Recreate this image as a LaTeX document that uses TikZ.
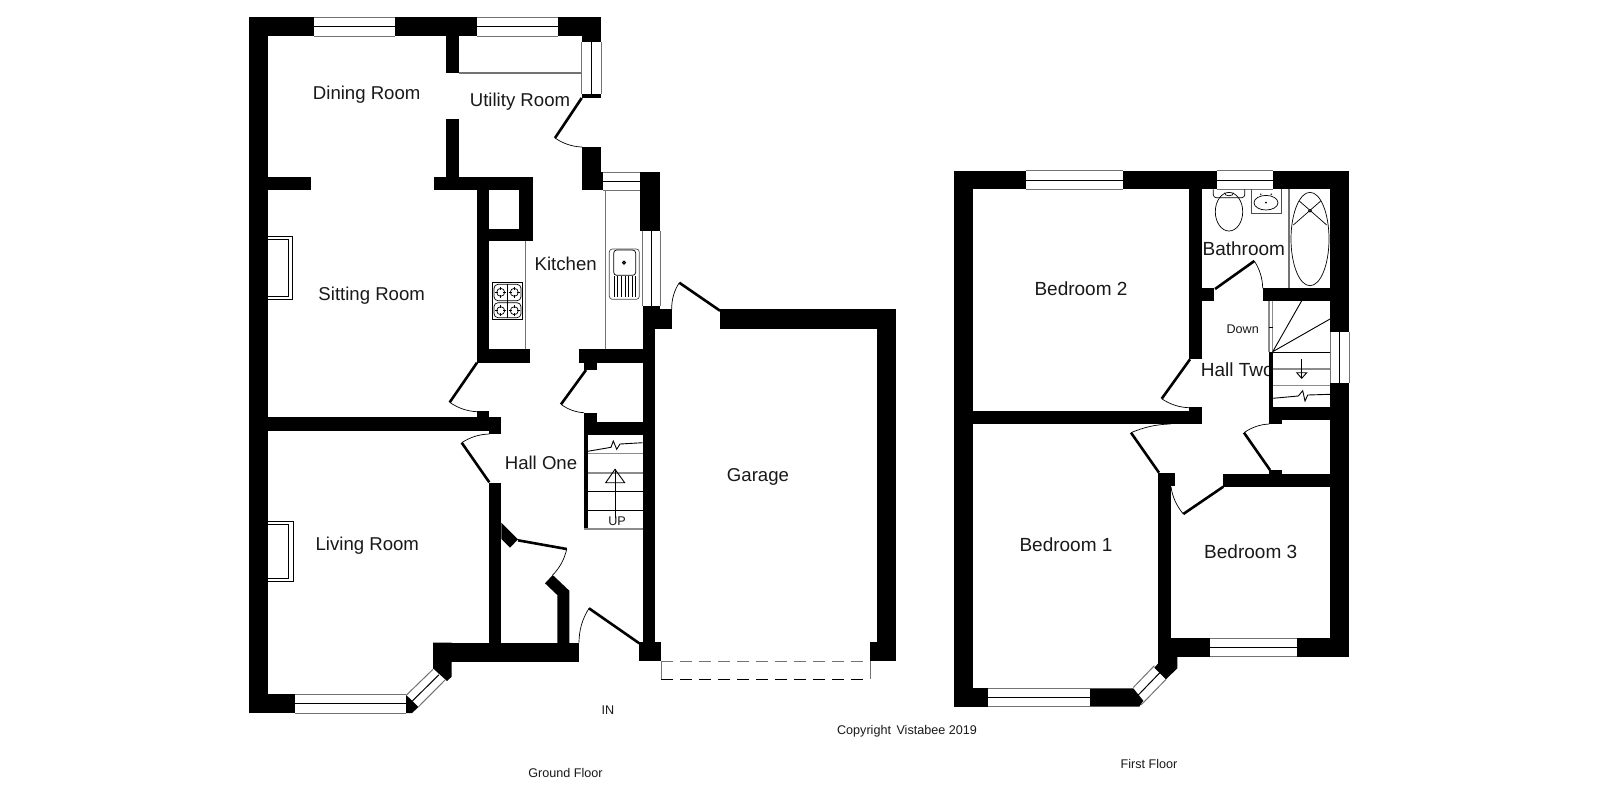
\documentclass[tikz,border=0pt]{standalone}
\usepackage{fontspec}
\setmainfont{Liberation Sans}
\usetikzlibrary{calc}
\tikzset{
  wall/.style={fill=black},
  winedge/.style={draw=black!55,line width=.5pt},
  wincentre/.style={draw=black,line width=.5pt},
  fitting/.style={draw=black,line width=.35pt},
  counter/.style={draw=black!55,line width=.55pt},
  tread/.style={draw=black!45,line width=.55pt},
  treadk/.style={draw=black,line width=.55pt},
  leaf/.style={draw=black,line width=1.3pt},
  swing/.style={draw=black,line width=.35pt},
  room/.style={font=\fontsize{9.3}{10}\selectfont,text=black!90,inner sep=0pt},
  upperroom/.style={font=\fontsize{9.5}{10}\selectfont,text=black!90,inner sep=0pt},
  small/.style={font=\fontsize{6.3}{7}\selectfont,text=black!90,inner sep=0pt}
}
% horizontal-run window: x1 x2 y1 y2
\newcommand{\hwin}[4]{%
  \fill[white] (#1,#3) rectangle (#2,#4);
  \draw[winedge] (#1,#3) -- (#2,#3) (#1,#4) -- (#2,#4);
  \draw[wincentre] (#1,{(#3+#4)/2}) -- (#2,{(#3+#4)/2});}
% vertical-run window: x1 x2 y1 y2
\newcommand{\vwin}[4]{%
  \fill[white] (#1,#3) rectangle (#2,#4);
  \draw[winedge] (#1,#3) -- (#1,#4) (#2,#3) -- (#2,#4);
  \draw[wincentre] ({(#1+#2)/2},#3) -- ({(#1+#2)/2},#4);}
% door: hinge, tip, end of swing
\newcommand{\doorway}[3]{%
  \draw[leaf] (#1) -- (#2);
  \coordinate (swq) at ($(#1)!1.09!($(#2)!.5!(#3)$)$);
  \draw[swing] (#2) .. controls ($(#2)!.667!(swq)$) and ($(#3)!.667!(swq)$) .. (#3);}
\begin{document}
\begin{tikzpicture}[x=.5pt,y=-.5pt]
\useasboundingbox (0,0) rectangle (1600,800);
\fill[white] (0,0) rectangle (1600,800);

% ---------- labels ----------
\node[room] (dining) at (366.7,94.7) {Dining Room};
\node[room] (utility) at (520,101.3) {Utility Room};
\node[room] (sitting) at (371.7,295.3) {Sitting Room};
\node[room] (kitchen) at (565.7,264) {Kitchen};
\node[room] (hallone) at (541,463) {Hall One};
\node[room] (living) at (367.3,545.3) {Living Room};
\node[room] (garage) at (758,477) {Garage};
\node[upperroom] (bed2) at (1081,289) {Bedroom 2};
\node[upperroom] (bed1) at (1066,544.7) {Bedroom 1};
\node[upperroom] (bed3) at (1250.7,551.7) {Bedroom 3};
\node[upperroom] (bath) at (1243.8,248.5) {Bathroom};
\node[upperroom,anchor=west] (halltwo) at (1200.5,370) {Hall Two};
\node[small] (down) at (1242.7,329.3) {Down};
\node[small] (up) at (617,521.7) {UP};
\node[small] (in) at (608,710) {IN};
\node[small] (gf) at (565.5,773) {Ground Floor};
\node[small] (ff) at (1149,763.5) {First Floor};
\node[small] (copy) at (907,731.5) {Copyright\kern1pt\ Vistabee 2019};

% ---------- GROUND FLOOR walls ----------
\fill[wall] (249,17.3) rectangle (601,36);        % top
\fill[wall] (249,17.3) rectangle (268,713);       % left
\fill[wall] (581.7,36) rectangle (601,42);        % top right corner
\fill[wall] (445.7,36) rectangle (459,73);        % utility stub
\fill[wall] (581.7,93.5) rectangle (601,98);      % under side window
\fill[wall] (581.7,147) rectangle (601,190);
\fill[wall] (581.7,172) rectangle (660,190);
\fill[wall] (639.5,171.7) rectangle (660,230.7);
\fill[wall] (642.7,190) rectangle (660,230.7);
\fill[wall] (642.7,306) rectangle (660,329.3);
\fill[wall] (642.7,309) rectangle (671.7,329.3);
\fill[wall] (642.7,329) rectangle (655,643);      % hall/garage wall
\fill[wall] (720,309.3) rectangle (896,329.3);    % garage top
\fill[wall] (876.7,309.3) rectangle (896,661);    % garage right
\fill[wall] (870,642.3) rectangle (896,661);
\fill[wall] (639.3,642.3) rectangle (661,661);
\fill[wall] (268,177.3) rectangle (311,190);      % dining/sitting stubs
\fill[wall] (434,177.3) rectangle (532.7,190);
\fill[wall] (445.7,119.3) rectangle (459,177.3);
\fill[wall] (477,177.3) rectangle (489.3,362.7);  % kitchen left
\fill[wall] (519,177.3) rectangle (532.7,241);    % flue
\fill[wall] (477,229) rectangle (532.7,241);
\fill[wall] (477,349.3) rectangle (530,362.7);
\fill[wall] (579,349.3) rectangle (643,362.7);
\fill[wall] (584,362.7) rectangle (596.7,370);
\fill[wall] (268,417.3) rectangle (489.3,430.7);  % sitting/living
\fill[wall] (477,411.3) rectangle (489.3,417.3);
\fill[wall] (489.3,417.3) rectangle (501.3,434);
\fill[wall] (489.3,483.3) rectangle (501.3,643);  % hall left wall
\fill[wall] (501.3,522.7) -- (518,539.3) -- (510,547.7) -- (501.3,539) -- cycle;
\fill[wall] (552.7,575) -- (569.3,590.7) -- (569.3,643) -- (557.3,643) -- (557.3,595) -- (545,583.3) -- cycle;
\fill[wall] (433,642.7) rectangle (579,661.7);
\fill[wall] (433,642.7) -- (451.7,642.7) -- (451.7,676.7) -- (447,681) -- (433,668.3) -- cycle;
\fill[wall] (406,694.8) -- (418.5,707) -- (412,713) -- (406,713) -- cycle;
\fill[wall] (249,694.3) rectangle (295,713);
\fill[wall] (584,412.7) rectangle (596.7,421.7);  % stair head
\fill[wall] (584,421.7) rectangle (643,435);
\fill[wall] (584,435) rectangle (587.7,529);

% ground floor windows
\hwin{314}{395}{17.3}{36}
\hwin{477}{558}{17.3}{36}
\vwin{581.7}{601}{42}{93.5}
\hwin{603}{639.5}{172}{190}
\vwin{642.7}{660}{230.7}{306}
\hwin{295}{406}{694.3}{713}
\draw[winedge] (433,669.3) -- (406.5,695) (445,680) -- (418.5,706.7);
\draw[wincentre] (439,674.7) -- (412.5,700.8);

% counters and worktop lines
\draw[counter] (459,73) -- (581.7,73);
\draw[counter] (605.7,190) -- (605.7,349.3);
\draw[counter] (525.7,241) -- (525.7,349.3);

% fireplaces
\draw[fitting] (268,236) -- (292,236) -- (292,299.3) -- (268,299.3);
\draw[fitting] (268,239.3) -- (288.3,239.3) -- (288.3,296) -- (268,296);
\draw[fitting] (268,521) -- (293,521) -- (293,581.7) -- (268,581.7);
\draw[fitting] (268,524) -- (288.7,524) -- (288.7,578) -- (268,578);

% hob
\draw[fitting] (492.3,282.3) rectangle (522.7,319.3);
\draw[fitting,rounded corners=2pt] (494,284.3) rectangle (521,300.7);
\draw[fitting,rounded corners=2pt] (494,302.7) rectangle (521,317.7);
\draw[fitting] (507.3,284.3) -- (507.3,317.7);
\foreach \bx/\by in {500.7/292.3,514.3/292.3,500.7/310.7,514.3/310.7}{
  \draw[fitting] (\bx,\by) circle[radius=4];
  \draw[fitting,line width=.5pt] (\bx-5.5,\by) -- (\bx-2.5,\by) (\bx+2.5,\by) -- (\bx+5.5,\by)
        (\bx,\by-5.5) -- (\bx,\by-2.5) (\bx,\by+2.5) -- (\bx,\by+5.5);
}
% sink
\draw[fitting,draw=black!70,rounded corners=1.5pt] (609.3,249) rectangle (639.3,299.3);
\draw[fitting,rounded corners=1.5pt] (613.7,250) rectangle (635.7,275.3);
\draw[fitting,line width=.6pt] (624,262.7) circle[radius=1.4];
\foreach \sx in {614,617.7,621.4,625.1,628.8,632.5,635.7}{\draw[fitting] (\sx,276) -- (\sx,297);}

% ground floor stairs
\draw[tread] (587.7,453.3) -- (643,453.3) (587.7,473) -- (643,473) (584,529) -- (643,529);
\draw[treadk] (587.7,491.7) -- (643,491.7) (587.7,510.3) -- (643,510.3);
\draw[fitting,line width=.45pt] (587.7,451.3) -- (611,447.3) -- (613.3,441) -- (616.7,449.3) -- (620,444) -- (642.7,442.7);
\draw[fitting,line width=.45pt] (615,469.3) -- (615,518);
\draw[fitting,line width=.45pt] (615,469.3) -- (624.7,482.7) -- (605.7,482.7) -- cycle;

% garage door
\draw[winedge,dash pattern=on 6pt off 3.5pt] (661,661) -- (870,661);
\draw[draw=black,line width=.5pt,dash pattern=on 6pt off 3.5pt] (661,679.3) -- (870,679.3);
\draw[winedge] (661,661) -- (661,679.3) (870,661) -- (870,679.3);

% ground floor doors
\coordinate (d1h) at (581.7,98); \coordinate (d1t) at (555,138); \coordinate (d1e) at (582,147);
\doorway{d1h}{d1t}{d1e}
\coordinate (d2h) at (477,362.7); \coordinate (d2t) at (449.7,402.3); \coordinate (d2e) at (477,411.7);
\doorway{d2h}{d2t}{d2e}
\coordinate (d3h) at (489.3,482.3); \coordinate (d3t) at (461.7,442.7); \coordinate (d3e) at (489.3,434);
\doorway{d3h}{d3t}{d3e}
\coordinate (d4h) at (586,370); \coordinate (d4t) at (561,404.3); \coordinate (d4e) at (584,412.7);
\doorway{d4h}{d4t}{d4e}
\coordinate (d5h) at (518,540.3); \coordinate (d5t) at (566.7,549); \coordinate (d5e) at (552.7,575);
\doorway{d5h}{d5t}{d5e}
\coordinate (d6h) at (639.3,643.3); \coordinate (d6t) at (589,608.3); \coordinate (d6e) at (579,642.7);
\doorway{d6h}{d6t}{d6e}
\coordinate (d7h) at (720,310.7); \coordinate (d7t) at (679.3,282.7); \coordinate (d7e) at (671.7,309.3);
\doorway{d7h}{d7t}{d7e}

% ---------- FIRST FLOOR walls ----------
\fill[wall] (954.3,170.7) rectangle (1349,189.3);   % top
\fill[wall] (954.3,170.7) rectangle (973.3,706.7);  % left
\fill[wall] (1330,170.7) rectangle (1349,656.7);    % right
\fill[wall] (1189,189) rectangle (1201.7,359);
\fill[wall] (1189,288.3) rectangle (1214.3,300.7);
\fill[wall] (1262.7,288.3) rectangle (1330,300.7);
\fill[wall] (973,411) rectangle (1201.7,424);
\fill[wall] (1189,407) rectangle (1201.7,424);
\fill[wall] (1269,407.3) rectangle (1330,420);
\fill[wall] (1269,407.3) rectangle (1281.7,424);
\fill[wall] (1269,351.7) rectangle (1272.7,420);
\fill[wall] (1158.3,473.3) rectangle (1175,486);
\fill[wall] (1223.3,474) rectangle (1330,486.7);
\fill[wall] (1269.3,470) rectangle (1281.7,474);
\fill[wall] (1158.3,473.3) rectangle (1170.7,665);
\fill[wall] (1158.3,638.3) rectangle (1349,656.7);
\fill[wall] (1158.3,656) -- (1177.3,656) -- (1177.3,668.3) -- (1166,679.3) -- (1154.3,667.7) -- (1158.3,663.3) -- cycle;
\fill[wall] (954.3,688.3) rectangle (1090,706.7);
\fill[wall] (1090,688.3) -- (1133.3,688.3) -- (1143.3,700.7) -- (1139.3,706.7) -- (1090,706.7) -- cycle;

% first floor windows
\hwin{1026}{1123.3}{170.7}{189.3}
\hwin{1216.7}{1273.3}{170.7}{189.3}
\vwin{1330}{1349}{331.7}{382.7}
\hwin{1210}{1297.3}{638.3}{656.7}
\hwin{988.3}{1090}{688.3}{706.7}
\draw[winedge] (1154.3,665.7) -- (1133.3,687.5) (1166,679.3) -- (1141,705);
\draw[wincentre] (1160,672.5) -- (1137.3,696);

% bathroom fittings
\draw[counter] (1289,189.3) -- (1289,288.3);
\draw[fitting] (1310,239) ellipse[x radius=19,y radius=46.7];
\draw[fitting] (1299.3,201) -- (1326.7,225) (1320.7,201) -- (1293.3,225);
\draw[fitting,fill=black!50] (1310,210.7) circle[radius=1.4];
\draw[fitting,rounded corners=1.5pt] (1213.3,189.3) -- (1213.3,197.7) -- (1244.7,197.7) -- (1244.7,189.3);
\draw[fitting] (1229,211.7) ellipse[x radius=13.7,y radius=19.3];
\draw[fitting] (1224.5,192.8) arc[start angle=180,end angle=0,x radius=4.5,y radius=3];
\draw[fitting,draw=black!70] (1251.7,189.3) -- (1251.7,213.3) -- (1281,213.3) -- (1281,189.3);
\draw[fitting] (1266,202.7) ellipse[x radius=12,y radius=7.3];
\fill[black] (1266,202.7) circle[radius=1];
\fill[black!80] (1260.7,194.3) circle[radius=.9] (1271.3,194.3) circle[radius=.9];

% first floor stairs
\draw[tread] (1269,300.7) -- (1269,351.7) (1272.7,300.7) -- (1272.7,351.7);
\draw[fitting] (1269,327) -- (1272.7,327);
\draw[fitting,line width=.45pt] (1272.7,351.7) -- (1301.7,300.7) (1272.7,351.7) -- (1330,319);
\draw[treadk] (1272.7,352.3) -- (1330,352.3);
\draw[tread] (1272.7,369) -- (1330,369) (1272.7,385.7) -- (1330,385.7);
\draw[fitting,line width=.45pt] (1301.7,359.3) -- (1301.7,378.3);
\draw[fitting,line width=.45pt] (1301.7,378.3) -- (1296.7,372.7) -- (1306.7,372.7) -- cycle;
\draw[fitting,line width=.45pt] (1272.7,398.3) -- (1298.3,396) -- (1302.7,390.7) -- (1305,401) -- (1307.7,395) -- (1330,394.3);

% first floor doors
\coordinate (e1h) at (1215,289); \coordinate (e1t) at (1254.3,261); \coordinate (e1e) at (1262.7,288.3);
\doorway{e1h}{e1t}{e1e}
\coordinate (e2h) at (1190,359.3); \coordinate (e2t) at (1161.7,398.7); \coordinate (e2e) at (1189,407.7);
\doorway{e2h}{e2t}{e2e}
\coordinate (e3h) at (1159,472.7); \coordinate (e3t) at (1131,432.7); \coordinate (e3e) at (1170.7,424);
\doorway{e3h}{e3t}{e3e}
\coordinate (e4h) at (1223.3,486.7); \coordinate (e4t) at (1183.3,514); \coordinate (e4e) at (1171,486.7);
\doorway{e4h}{e4t}{e4e}
\coordinate (e5h) at (1270,470); \coordinate (e5t) at (1244,432.7); \coordinate (e5e) at (1269.3,424);
\doorway{e5h}{e5t}{e5e}
\end{tikzpicture}
\end{document}
